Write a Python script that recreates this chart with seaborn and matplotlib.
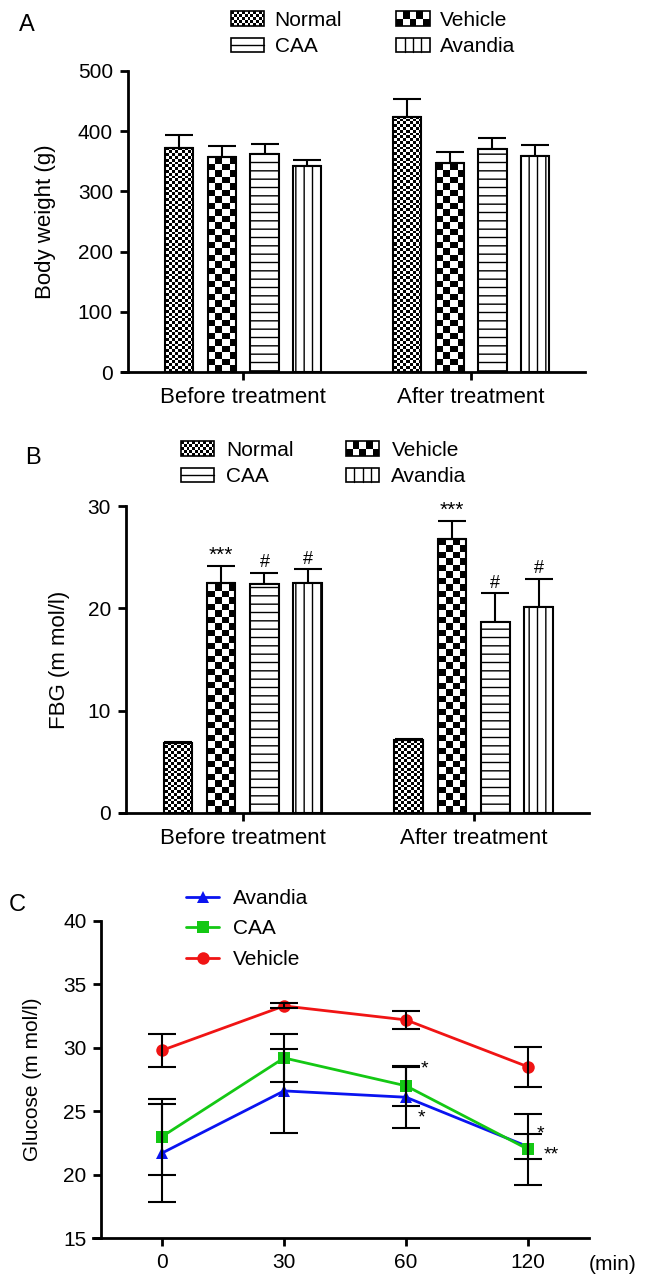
import numpy as np
import pandas as pd
import matplotlib
matplotlib.use("Agg")
import matplotlib.pyplot as plt
import seaborn as sns
from matplotlib.patches import Patch, Rectangle
from matplotlib.lines import Line2D
from matplotlib.legend_handler import HandlerBase

# ---- data ----
groups = ["Before treatment", "After treatment"]
treatments = ["Normal", "Vehicle", "CAA", "Avandia"]

bw_before = [372, 357, 362, 343]
bw_after = [424, 347, 371, 358]
bw_sd_before = [21, 18, 16, 9]
bw_sd_after = [29, 19, 18, 19]

fbg_before = [6.8, 22.5, 22.4, 22.5]
fbg_after = [7.1, 26.8, 18.7, 20.1]
fbg_sd_before = [0.1, 1.6, 1.1, 1.3]
fbg_sd_after = [0.1, 1.7, 2.8, 2.8]
fbg_marks_before = ["", "***", "#", "#"]
fbg_marks_after = ["", "***", "#", "#"]

times = ["0", "30", "60", "120"]
avandia_mean = [21.7, 26.6, 26.1, 22.2]
avandia_sd = [3.9, 3.3, 2.4, 1.0]
caa_mean = [23.0, 29.2, 27.0, 22.0]
caa_sd = [3.0, 1.9, 1.6, 2.8]
vehicle_mean = [29.8, 33.3, 32.2, 28.5]
vehicle_sd = [1.3, 0.2, 0.7, 1.6]

W, H = 646, 1285
sns.set_theme(style="ticks")
plt.rcParams["font.family"] = ["Liberation Sans", "DejaVu Sans"]
plt.rcParams["hatch.linewidth"] = 1.0
for key in ["text.color", "axes.labelcolor", "xtick.color", "ytick.color", "axes.edgecolor"]:
    plt.rcParams[key] = "black"

fig = plt.figure(figsize=(W / 100, H / 100), dpi=100)


def fig_box(left, top, right, bottom):
    return [left / W, 1 - bottom / H, (right - left) / W, (bottom - top) / H]


# texture for each treatment: (kind, cells across, cell height px)
textures = {
    "Normal": ("checker", 9, 2.8),
    "Vehicle": ("checker", 4, 6.5),
    "CAA": ("hatch", "--", None),
    "Avandia": ("hatch", "||", None),
}


def checker_image(ax, patch, ncols, cell_h):
    x0, y0 = patch.get_x(), patch.get_y()
    x1, y1 = x0 + patch.get_width(), y0 + patch.get_height()
    (px0, py0), (px1, py1) = ax.transData.transform([(x0, y0), (x1, y1)])
    nx = max(1, int(round(px1 - px0)))
    ny = max(1, int(round(py1 - py0)))
    cw = nx / ncols
    jj = np.arange(nx)[None, :]
    ii = np.arange(ny)[:, None]
    grid = ((ii // cell_h + jj // cw) % 2).astype(float)
    ax.imshow(grid, cmap="gray_r", vmin=0, vmax=1, extent=(x0, x1, y0, y1),
              origin="lower", interpolation="nearest", aspect="auto", zorder=1.5)


class TextureHandler(HandlerBase):
    def __init__(self, kind, ncols=1, nrows=1):
        super().__init__()
        self.kind = kind
        self.ncols = ncols
        self.nrows = nrows

    def create_artists(self, legend, orig_handle, xdescent, ydescent,
                       width, height, fontsize, trans):
        x0, y0 = -xdescent, -ydescent
        arts = []
        if self.kind == "checker":
            cw, ch = width / self.ncols, height / self.nrows
            for r in range(self.nrows):
                for c in range(self.ncols):
                    if (r + c) % 2 == 0:
                        arts.append(Rectangle((x0 + c * cw, y0 + r * ch), cw, ch,
                                              fc="black", ec="none", transform=trans))
        elif self.kind == "hlines":
            arts.append(Line2D([x0, x0 + width], [y0 + height / 2] * 2,
                               color="black", lw=1.0, transform=trans))
        elif self.kind == "vlines":
            for k in range(1, 4):
                xx = x0 + width * k / 4
                arts.append(Line2D([xx, xx], [y0, y0 + height],
                                   color="black", lw=1.0, transform=trans))
        arts.append(Rectangle((x0, y0), width, height, fill=False, ec="black",
                              lw=1.2, transform=trans))
        return arts


def bar_panel(box, before, after, sd_before, sd_after, ylim, yticks, ylabel,
              label_x, legend_at, colspace, textpad, marks=None):
    ax = fig.add_axes(box)
    df = pd.DataFrame({
        "group": np.repeat(groups, len(treatments)),
        "treatment": treatments * 2,
        "value": list(before) + list(after),
    })
    sns.barplot(data=df, x="group", y="value", hue="treatment",
                hue_order=treatments, order=groups, palette=["white"] * 4,
                width=0.75, gap=0.34, errorbar=None, edgecolor="black",
                linewidth=1.5, legend=False, ax=ax, zorder=2)
    ax.set_xlim(-0.532, 1.5)
    ax.set_ylim(*ylim)
    ax.set_yticks(yticks)
    for name, cont, sds, mk in zip(treatments, ax.containers,
                                   zip(sd_before, sd_after),
                                   zip(*(marks or [[""] * 4, [""] * 4]))):
        kind = textures[name]
        for patch, sd, m in zip(cont.patches, sds, mk):
            xc = patch.get_x() + patch.get_width() / 2
            top = patch.get_height()
            ax.errorbar([xc], [top], yerr=[[0], [sd]], fmt="none", ecolor="black",
                        elinewidth=1.5, capsize=10, capthick=1.5, zorder=1.8)
            if kind[0] == "checker":
                patch.set_facecolor("none")
                checker_image(ax, patch, kind[1], kind[2])
            else:
                patch.set_facecolor("white")
                patch.set_hatch(kind[1])
            if m:
                ax.annotate(m, (xc, top + sd), xytext=(0, 1), textcoords="offset points",
                            ha="center", va="bottom",
                            fontsize=15 if m.startswith("*") else 13)
    ax.set_xlim(-0.532, 1.5)
    ax.set_ylim(*ylim)
    ax.set_xlabel("")
    ax.set_ylabel(ylabel, fontsize=16, va="center")
    ax.yaxis.set_label_coords(label_x, 0.5)
    for s in ["top", "right"]:
        ax.spines[s].set_visible(False)
    ax.spines["left"].set_position(("axes", 0.012))
    for s in ["left", "bottom"]:
        ax.spines[s].set_linewidth(2.0)
    ax.tick_params(axis="both", width=2.0, length=5.5, labelsize=15, pad=5, color="black")
    ax.tick_params(axis="x", labelsize=16)
    handles = [Patch(label=t) for t in treatments]
    hmap = {
        handles[0]: TextureHandler("checker", 12, 5),
        handles[1]: TextureHandler("checker", 5, 2),
        handles[2]: TextureHandler("hlines"),
        handles[3]: TextureHandler("vlines"),
    }
    order = [0, 2, 1, 3]
    ax.legend([handles[i] for i in order], [treatments[i] for i in order],
              handler_map=hmap, ncol=2, loc="upper left",
              bbox_to_anchor=legend_at, bbox_transform=fig.transFigure,
              frameon=False, borderpad=0, borderaxespad=0, fontsize=15,
              handlelength=1.6, handleheight=0.72, handletextpad=textpad,
              columnspacing=colspace, labelspacing=0.35)
    return ax


# ---- panel A ----
axA = bar_panel(fig_box(122, 71, 585, 372), bw_before, bw_after, bw_sd_before, bw_sd_after,
                (0, 500), [0, 100, 200, 300, 400, 500], "Body weight (g)", -0.166,
                (231 / W, 1 - 11 / H), 2.6, 0.5)
fig.text(27 / W, 1 - 25 / H, "A", fontsize=17, ha="center", va="center")

# ---- panel B ----
axB = bar_panel(fig_box(120, 506, 589, 813), fbg_before, fbg_after, fbg_sd_before, fbg_sd_after,
                (0, 30), [0, 10, 20, 30], "FBG (m mol/l)", -0.128,
                (181 / W, 1 - 441 / H), 2.5, 0.58,
                marks=[fbg_marks_before, fbg_marks_after])
fig.text(33 / W, 1 - 458 / H, "B", fontsize=17, ha="center", va="center")

# ---- panel C ----
axC = fig.add_axes(fig_box(93, 921, 589, 1238))
series = [("Avandia", avandia_mean, avandia_sd, "#0a14f0", "^"),
          ("CAA", caa_mean, caa_sd, "#14c814", "s"),
          ("Vehicle", vehicle_mean, vehicle_sd, "#f01414", "o")]
long = pd.DataFrame({
    "t": np.tile(np.arange(len(times)), len(series)),
    "glucose": sum([list(s[1]) for s in series], []),
    "group": np.repeat([s[0] for s in series], len(times)),
})
sns.lineplot(data=long, x="t", y="glucose", hue="group", style="group",
             hue_order=[s[0] for s in series],
             palette={s[0]: s[3] for s in series},
             markers={s[0]: s[4] for s in series}, dashes=False,
             linewidth=2.0, markersize=9, markeredgewidth=0, legend=False, ax=axC)
for name, m, sd, col, mk in series:
    axC.errorbar(np.arange(len(times)), m, yerr=sd, fmt="none", ecolor="black",
                 elinewidth=1.5, capsize=10, capthick=1.5, zorder=4)
axC.set_xlim(-0.566, 3.5)
axC.set_ylim(15, 40)
axC.set_yticks([15, 20, 25, 30, 35, 40])
axC.set_xticks(range(len(times)))
axC.set_xticklabels(times)
axC.set_xlabel("")
axC.set_ylabel("Glucose (m mol/l)", fontsize=15, va="center")
axC.yaxis.set_label_coords(-0.121, 0.5)
for s in ["top", "right"]:
    axC.spines[s].set_visible(False)
axC.spines["left"].set_position(("data", -0.5))
for s in ["left", "bottom"]:
    axC.spines[s].set_linewidth(2.0)
axC.tick_params(axis="both", width=2.0, length=5.5, labelsize=15, pad=5, color="black")

# significance marks next to points: (series index, time index, text, dx, dy)
c_marks = [(1, 2, "*", 13, 12), (0, 2, "*", 11, -15), (0, 3, "*", 9, 9), (1, 3, "**", 17, -4)]
for si, ti, txt, dx, dy in c_marks:
    axC.annotate(txt, (ti, series[si][1][ti]), xytext=(dx, dy), textcoords="offset points",
                 ha="center", va="center", fontsize=14)

c_handles = [Line2D([], [], color=col, marker=mk, lw=2.0, markersize=9, markeredgewidth=0)
             for name, m, sd, col, mk in series]
axC.legend(c_handles, [s[0] for s in series], loc="upper left",
           bbox_to_anchor=(186 / W, 1 - 889 / H), bbox_transform=fig.transFigure,
           frameon=False, borderpad=0, borderaxespad=0, fontsize=15,
           handlelength=1.6, handletextpad=0.67, labelspacing=0.55)
fig.text(17 / W, 1 - 905 / H, "C", fontsize=17, ha="center", va="center")
fig.text(613 / W, 1 - 1264 / H, "(min)", fontsize=15, ha="center", va="center")

fig.savefig("out.png", dpi=100, facecolor="white")
